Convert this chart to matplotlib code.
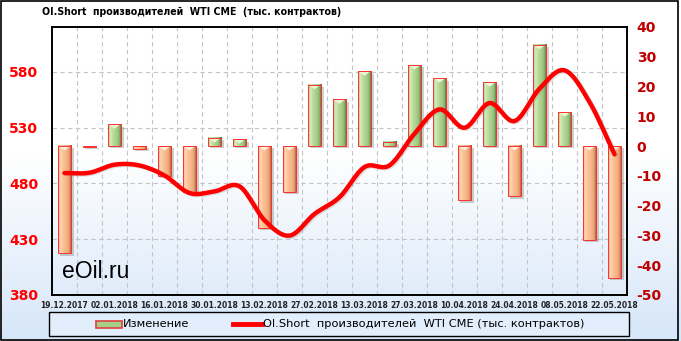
import matplotlib.pyplot as plt
import numpy as np
from matplotlib.patches import Rectangle, Polygon
from matplotlib.colors import to_rgb
from matplotlib.lines import Line2D

dates = ['19.12.2017', '26.12.2017', '02.01.2018', '09.01.2018', '16.01.2018', '23.01.2018',
         '30.01.2018', '06.02.2018', '13.02.2018', '20.02.2018', '27.02.2018', '06.03.2018',
         '13.03.2018', '20.03.2018', '27.03.2018', '03.04.2018', '10.04.2018', '17.04.2018',
         '24.04.2018', '01.05.2018', '08.05.2018', '15.05.2018', '22.05.2018']
change = [-36, -0.3, 7.3, -1, -10, -15.3, 2.7, 2.3, -27.4, -15.4, 20.6, 15.7,
          25.1, 1.4, 27.2, 22.8, -18.2, 21.4, -16.9, 34, 11.4, -31.4, -44.3]
oi_short = [489.2, 489.5, 496.7, 496, 487, 471.3, 472.8, 477.3, 446.9, 433.2, 452.6, 467.6,
            494.6, 496.1, 524.5, 546.2, 529.8, 551.9, 535.8, 564.8, 581.2, 552.8, 506]

title = 'OI.Short  производителей  WTI CME  (тыс. контрактов)'
label_bar = 'Изменение'
label_line = 'OI.Short  производителей  WTI CME (тыс. контрактов)'

W, H = 681, 341


def smooth(y, n=24):
    # catmull-rom curve through the points, like the smoothed line of the original
    y = np.asarray(y, float)
    p = np.concatenate([[2 * y[0] - y[1]], y, [2 * y[-1] - y[-2]]])
    xs, ys = [], []
    for i in range(len(y) - 1):
        t = np.linspace(0, 1, n, endpoint=False)
        p0, p1, p2, p3 = p[i:i + 4]
        yy = 0.5 * (2 * p1 + (-p0 + p2) * t + (2 * p0 - 5 * p1 + 4 * p2 - p3) * t ** 2
                    + (-p0 + 3 * p1 - 3 * p2 + p3) * t ** 3)
        xs.append(i + t)
        ys.append(yy)
    xs.append([len(y) - 1])
    ys.append([y[-1]])
    return np.concatenate(xs), np.concatenate(ys)


def gradient(stops, n=40):
    pos = np.linspace(0, 1, len(stops))
    cols = np.array([to_rgb(c) for c in stops])
    t = np.linspace(0, 1, n)
    return np.stack([np.interp(t, pos, cols[:, k]) for k in range(3)], axis=-1)[None, :, :]


fig = plt.figure(figsize=(W / 100, H / 100), dpi=100)

# background gradient
bg = fig.add_axes([0, 0, 1, 1], zorder=-10)
g = np.ones((200, 1, 3))
top_c, bot_c = np.array([1, 1, 1]), np.array(to_rgb('#d6e6f9'))
for i in range(200):
    f = max(0, (i / 199 - 0.45) / 0.55)
    g[i, 0] = top_c * (1 - f) + bot_c * f
bg.imshow(g, aspect='auto', extent=[0, 1, 0, 1])
bg.set_xlim(0, 1)
bg.set_ylim(0, 1)
bg.axis('off')
fig.patches.append(Rectangle((0.5 / W, 1.5 / H), 1 - 4 / W, 1 - 2.5 / H, transform=fig.transFigure,
                             fill=False, edgecolor='black', lw=1.2))

ax = fig.add_axes([52 / W, 46 / H, 575 / W, 268 / H])
ax2 = ax.twinx()
ax.yaxis.tick_right()
ax2.yaxis.tick_left()
ax.patch.set_alpha(0)
ax2.patch.set_visible(False)
ax2.set_zorder(ax.get_zorder() + 1)

x = np.arange(len(dates))

# grid
for i in range(len(dates) - 1):
    ax.axvline(i + 0.5, color='#c4c4c4', lw=0.8, ls=(0, (4, 3)), zorder=0)
for L in [430, 480, 530, 580]:
    ax.axhline(-50 + (L - 380) * 90 / 240, color='#c4c4c4', lw=0.8, ls=(0, (4, 3)), zorder=0)

# bars
w = 0.55
orange = gradient(['#f3aa80', '#ffd6b3', '#fdc59c', '#fab98d', '#f5b083', '#e09a6c', '#8a4528'])
green = gradient(['#98c078', '#d6edbb', '#bfdea2', '#b0d391', '#a4cb86', '#8bb46c', '#40582a'])
for xi, v in zip(x, change):
    lo, hi = min(v, 0), max(v, 0)
    ax.add_patch(Rectangle((xi - w / 2 + 0.1, lo - 0.8), w, hi - lo, facecolor='#606060',
                           alpha=0.3, lw=0, zorder=1))
    img = orange if v < 0 else green
    ax.imshow(img, aspect='auto', extent=[xi - w / 2, xi + w / 2, lo, hi], zorder=2,
              interpolation='bilinear')
    if abs(v) > 2:
        tri = '#fff2dc' if v < 0 else '#eaf6d8'
        ax.add_patch(Polygon([(xi - w / 2 + 0.04, hi), (xi + w / 2 - 0.04, hi), (xi, hi - 1.5)],
                             facecolor=tri, lw=0, zorder=3))
    ax.add_patch(Rectangle((xi - w / 2, lo), w, hi - lo, fill=False, edgecolor='#ff3030',
                           lw=0.7, zorder=4))
ax.set_xlim(-0.5, len(dates) - 0.5)
ax.set_ylim(-50, 40)
ax2.set_ylim(380, 620)

# line
xs, ys = smooth(oi_short)
ax2.plot(xs + 0.06, ys - 0.9, color='#808080', lw=3.2, alpha=0.25, solid_capstyle='round')
ax2.plot(xs, ys, color='#ff0000', lw=3.2, solid_capstyle='round', zorder=5)

# axes
ax.set_xticks(x[::2])
ax.set_xticklabels(dates[::2], fontsize=6, fontweight='bold', color='#222222',
                   fontstretch='condensed')
ax.set_yticks(np.arange(-50, 41, 10))
ax.set_yticklabels([str(t) for t in range(-50, 41, 10)], fontsize=10, fontweight='bold',
                   color='#c00000')
ax2.set_yticks(np.arange(380, 581, 50))
ax2.set_yticklabels([str(t) for t in range(380, 581, 50)], fontsize=10, fontweight='bold',
                    color='#ff0000')
ax.tick_params(length=0, pad=7)
ax.tick_params(axis='x', pad=4)
ax2.tick_params(length=0, pad=10)
for a in (ax, ax2):
    for s in a.spines.values():
        s.set_color('black')
        s.set_linewidth(1.2)

fig.text(42 / W, 1 - 12 / H, title, fontsize=7.6, fontweight='bold', fontstretch='condensed',
         family='DejaVu Sans', va='center', ha='left')
fig.text(62 / W, 1 - 272 / H, 'eOil.ru', fontsize=16.5, family='Liberation Sans',
         va='center', ha='left')

# legend
fig.patches.append(Rectangle((49 / W, 1 - 336 / H), 580 / W, 24 / H, transform=fig.transFigure,
                             facecolor='#e2eefb', edgecolor='black', lw=1.0))
fig.patches.append(Rectangle((96 / W, 1 - 328 / H), 26 / W, 7 / H, transform=fig.transFigure,
                             facecolor='#a8cf89', edgecolor='#e04040', lw=1.2))
fig.text(123 / W, 1 - 324 / H, label_bar, fontsize=8.2, va='center', ha='left')
fig.lines.append(Line2D([233 / W, 262 / W], [1 - 324 / H, 1 - 324 / H], transform=fig.transFigure,
                        color='#ff0000', lw=3.5))
fig.text(263 / W, 1 - 324 / H, label_line, fontsize=8.2, va='center', ha='left')

fig.savefig('out.png', dpi=100)
